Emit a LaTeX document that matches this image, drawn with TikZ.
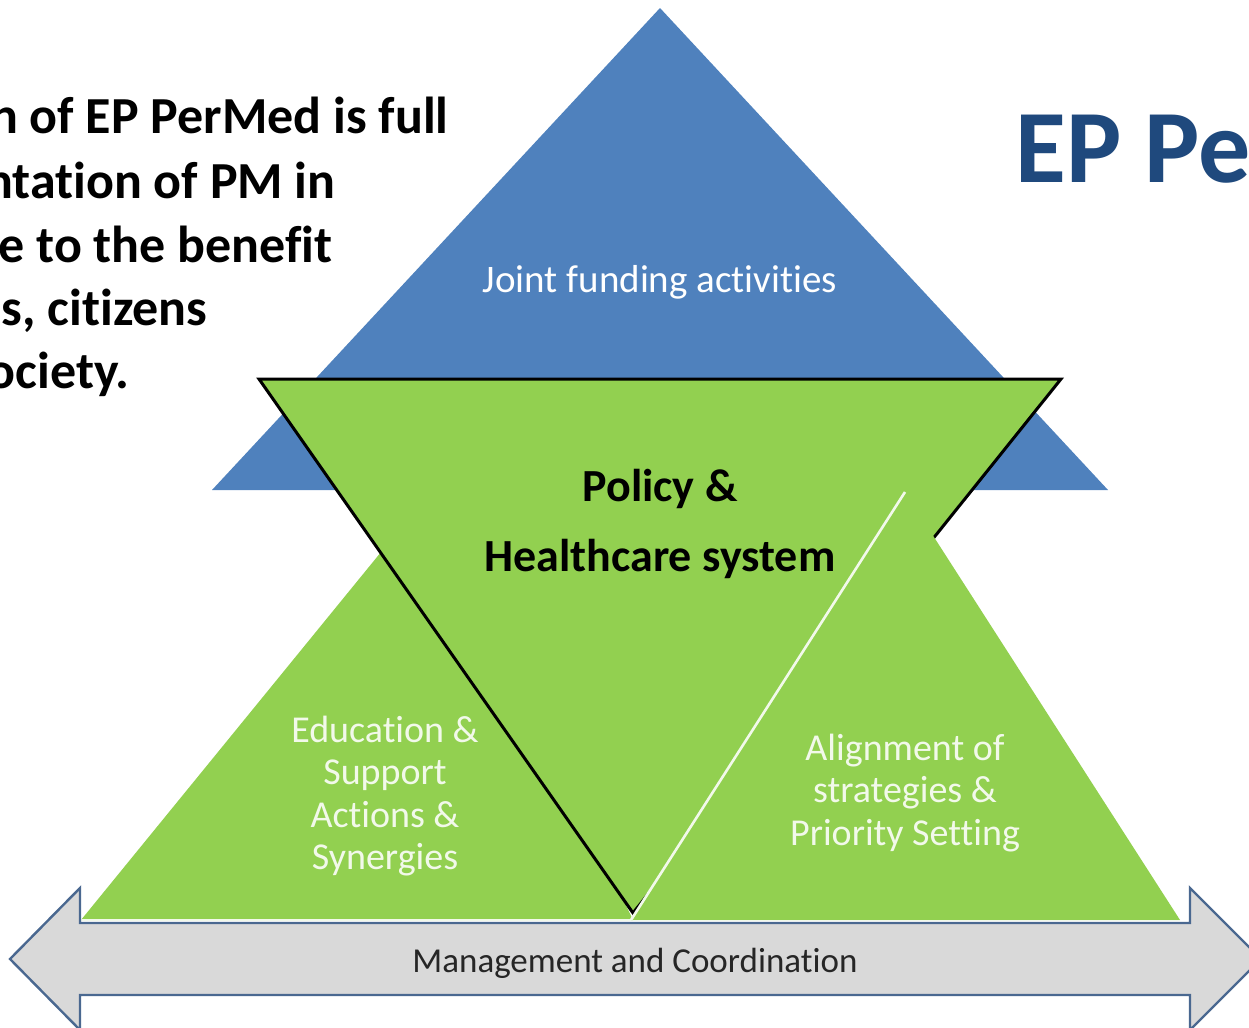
\documentclass[tikz,border=0pt]{standalone}
\usepackage{fontspec}
\setmainfont{Carlito}[Ligatures=NoCommon]
\usetikzlibrary{positioning}
\definecolor{pmblue}{HTML}{4F81BD}
\definecolor{pmgreen}{HTML}{92D050}
\definecolor{pmnavy}{HTML}{1F497D}
\definecolor{arrowgray}{HTML}{D9D9D9}
\definecolor{arrowline}{HTML}{4A6890}
\definecolor{paletext}{HTML}{F2F9EA}

\begin{document}
\begin{tikzpicture}
	[x=0.5pt, y=-0.5pt,
	 pale/.style={text=paletext, align=center, inner sep=0pt, font=\fontsize{19}{21.2}\selectfont},
	 intro/.style={anchor=base east, inner sep=0pt, font=\bfseries\fontsize{26}{32}\selectfont}]
   \useasboundingbox (0,0) rectangle (1249,1028);
   \clip (0,0) rectangle (1249,1028);
   % corners
   \coordinate (b_top)   at (660,8);
   \coordinate (b_left)  at (212,490);
   \coordinate (b_right) at (1108,490);
   \coordinate (e_left)  at (81,920);
   \coordinate (e_top)   at (430,492);
   \coordinate (e_right) at (633,920);
   \coordinate (p_left)  at (259,379);
   \coordinate (p_right) at (1061,379);
   \coordinate (p_bot)   at (633,913);
   \coordinate (a_left)  at (631,920);
   \coordinate (a_top)   at (905,492);
   \coordinate (a_right) at (1180,920);
   % triangles
   \fill[pmblue] (b_top) -- (b_right) -- (b_left) -- cycle;
   \fill[pmgreen] (e_left) -- (e_top) -- (e_right) -- cycle;
   \draw[paletext, line width=1pt] (e_left) -- (e_right);
   \filldraw[fill=pmgreen, draw=black, line width=1.5pt] (p_left) -- (p_right) -- (p_bot) -- cycle;
   \fill[pmgreen] (a_left) -- (a_top) -- (a_right) -- cycle;
   \draw[paletext, line width=1.3pt] (a_left) -- (a_top);
   % double arrow
   \filldraw[fill=arrowgray, draw=arrowline, line width=1.2pt]
     (10,959) -- (80,888) -- (80,923) -- (1190,923) -- (1190,888) -- (1261,959)
     -- (1190,1030) -- (1190,995) -- (80,995) -- (80,1030) -- cycle;
   % texts
   \node[pale, anchor=base, text=white, font=\fontsize{19.5}{22}\selectfont] (joint) at (660,292) {Joint funding activities};
   \node[align=center, inner sep=0pt, font=\bfseries\fontsize{23}{35}\selectfont] (policy) at (660,524) {Policy \&\\Healthcare system};
   \node[pale] (edu) at (385,796) {Education \&\\Support\\Actions \&\\Synergies};
   \node[pale] (prio) at (905,793) {Alignment of\\strategies \&\\Priority Setting};
   \node[anchor=base, inner sep=0pt, text=black!85, font=\fontsize{17.5}{20}\selectfont] (mgmt) at (635,972) {Management and Coordination};
   \node[anchor=base west, inner sep=0pt, text=pmnavy, font=\bfseries\fontsize{52}{60}\selectfont] (title) at (1015,182) {EP Pe};
   \node[intro] (l1) at (449,133) {n of EP PerMed is full};
   \node[intro] (l2) at (336,198) {ntation of PM in};
   \node[intro] (l3) at (333,262) {e to the benefit};
   \node[intro] (l4) at (208,325) {s, citizens};
   \node[intro] (l5) at (130,388) {ociety.};
\end{tikzpicture}
\end{document}
